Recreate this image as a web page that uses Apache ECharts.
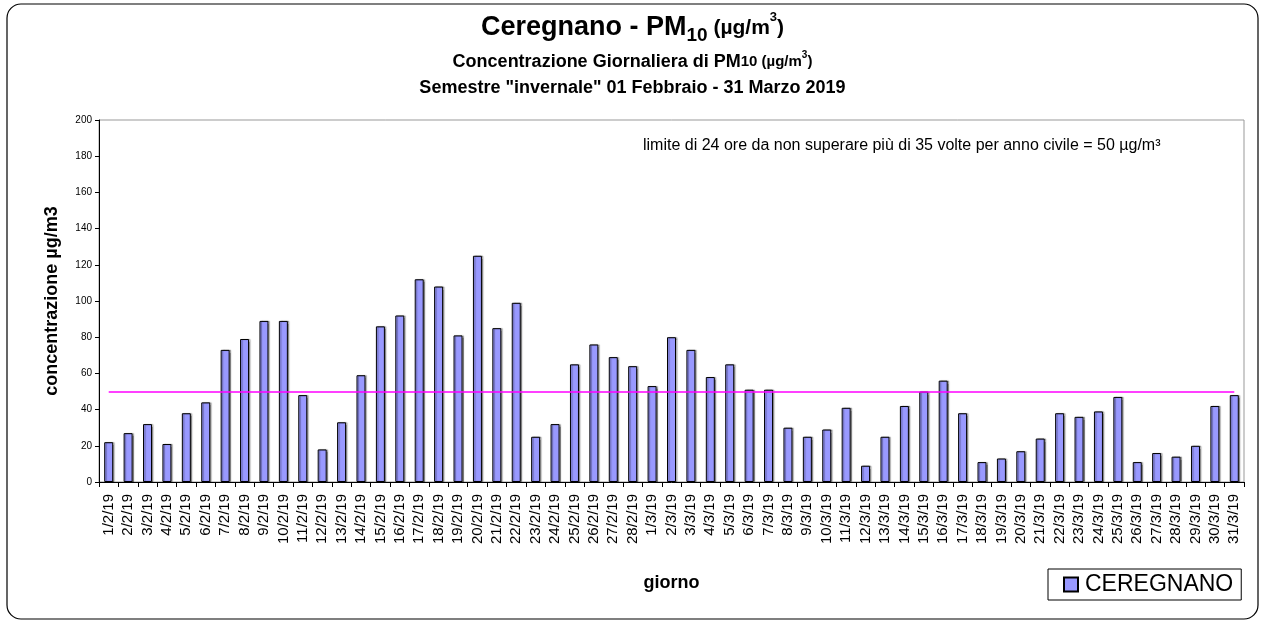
<!DOCTYPE html>
<html>
<head>
<meta charset="utf-8">
<script src="https://cdn.jsdelivr.net/npm/echarts@6/dist/echarts.min.js"></script>
<style>
  html, body { margin: 0; padding: 0; background: #fff; }
  #main { width: 1265px; height: 623px; }
</style>
</head>
<body>
<div id="main"></div>
<script>
// giorni 1/2/19 .. 31/3/19
const days = [
  '1/2/19', '2/2/19', '3/2/19', '4/2/19', '5/2/19', '6/2/19', '7/2/19', '8/2/19', '9/2/19', '10/2/19',
  '11/2/19', '12/2/19', '13/2/19', '14/2/19', '15/2/19', '16/2/19', '17/2/19', '18/2/19', '19/2/19', '20/2/19',
  '21/2/19', '22/2/19', '23/2/19', '24/2/19', '25/2/19', '26/2/19', '27/2/19', '28/2/19',
  '1/3/19', '2/3/19', '3/3/19', '4/3/19', '5/3/19', '6/3/19', '7/3/19', '8/3/19', '9/3/19', '10/3/19',
  '11/3/19', '12/3/19', '13/3/19', '14/3/19', '15/3/19', '16/3/19', '17/3/19', '18/3/19', '19/3/19', '20/3/19',
  '21/3/19', '22/3/19', '23/3/19', '24/3/19', '25/3/19', '26/3/19', '27/3/19', '28/3/19', '29/3/19', '30/3/19',
  '31/3/19'
];

const ceregnano = [
  22, 27, 32, 21, 38, 44, 73, 79, 89, 89,
  48, 18, 33, 59, 86, 92, 112, 108, 81, 125,
  85, 99, 25, 32, 65, 76, 69, 64,
  53, 80, 73, 58, 65, 51, 51, 30, 25, 29,
  41, 9, 25, 42, 50, 56, 38, 11, 13, 17,
  24, 38, 36, 39, 47, 11, 16, 14, 20, 42,
  48
];

const limite = 50;

const yTicks = { min: 0, max: 200, interval: 20 };

const font = 'Liberation Sans, Arial, Helvetica, sans-serif';

const chart = echarts.init(document.getElementById('main'));

chart.setOption({
  animation: false,
  textStyle: { fontFamily: font, color: '#000' },
  title: [
    {
      text: '{a|Ceregnano - PM}{s|10}{b| (µg/m}{p|3}{b|)}',
      left: 'center',
      top: 6,
      textStyle: {
        rich: {
          a: { fontSize: 27, fontWeight: 'bold', fontFamily: font, color: '#000', lineHeight: 34 },
          b: { fontSize: 21, fontWeight: 'bold', fontFamily: font, color: '#000', lineHeight: 34 },
          s: { fontSize: 19, fontWeight: 'bold', fontFamily: font, color: '#000', lineHeight: 20, verticalAlign: 'bottom' },
          p: { fontSize: 13, fontWeight: 'bold', fontFamily: font, color: '#000', lineHeight: 16, verticalAlign: 'top' }
        }
      }
    },
    {
      text: '{a|Concentrazione Giornaliera di PM}{b|10 (µg/m}{p|3}{b|)}',
      left: 'center',
      top: 45,
      textStyle: {
        rich: {
          a: { fontSize: 18, fontWeight: 'bold', fontFamily: font, color: '#000', lineHeight: 24 },
          b: { fontSize: 15, fontWeight: 'bold', fontFamily: font, color: '#000', lineHeight: 24 },
          p: { fontSize: 10, fontWeight: 'bold', fontFamily: font, color: '#000', lineHeight: 12, verticalAlign: 'top' }
        }
      }
    },
    {
      text: 'Semestre "invernale" 01 Febbraio - 31 Marzo 2019',
      left: 'center',
      top: 74,
      textStyle: { fontSize: 18, fontWeight: 'bold', fontFamily: font, color: '#000' }
    }
  ],
  graphic: [
    {
      type: 'rect',
      shape: { x: 7, y: 4, width: 1251, height: 615, r: 14 },
      style: { fill: 'none', stroke: '#000', lineWidth: 1.2 },
      silent: true
    },
    {
      type: 'text',
      left: 643,
      top: 138,
      style: {
        text: 'limite di 24 ore da non superare più di 35 volte per anno civile = 50 µg/m³',
        fontSize: 16,
        fontFamily: font,
        fill: '#000'
      }
    }
  ],
  legend: {
    left: 1048,
    top: 569,
    padding: [4, 8, 4, 15],
    borderColor: '#000',
    borderWidth: 1,
    itemWidth: 14,
    itemHeight: 14,
    itemGap: 4,
    icon: 'rect',
    textStyle: { fontSize: 23, fontFamily: font, color: '#000', padding: [0, 0, 0, 2] },
    data: ['CEREGNANO']
  },
  grid: {
    left: 99,
    right: 21,
    top: 120,
    bottom: 141,
    show: true,
    borderColor: '#999',
    borderWidth: 1
  },
  xAxis: {
    type: 'category',
    data: days,
    name: 'giorno',
    nameLocation: 'middle',
    nameGap: 92,
    nameTextStyle: { fontSize: 18, fontWeight: 'bold', fontFamily: font, color: '#000' },
    axisLine: { lineStyle: { color: '#000', width: 1 } },
    axisTick: { show: true, inside: false, length: 5, interval: 0, lineStyle: { color: '#000' } },
    axisLabel: { interval: 0, rotate: 90, fontSize: 15, margin: 12, color: '#000', fontFamily: font },
    splitLine: { show: false }
  },
  yAxis: {
    type: 'value',
    min: yTicks.min,
    max: yTicks.max,
    interval: yTicks.interval,
    name: 'concentrazione µg/m3',
    nameLocation: 'middle',
    nameGap: 38,
    nameTextStyle: { fontSize: 18, fontWeight: 'bold', fontFamily: font, color: '#000' },
    axisLine: { show: true, lineStyle: { color: '#000', width: 1 } },
    axisTick: { show: true, length: 4, lineStyle: { color: '#000' } },
    axisLabel: { fontSize: 10, margin: 7, color: '#000', fontFamily: font },
    splitLine: { show: false }
  },
  series: [
    {
      name: 'CEREGNANO',
      type: 'bar',
      data: ceregnano,
      barWidth: 9,
      itemStyle: {
        color: '#9999ff',
        borderColor: '#000',
        borderWidth: 1,
        shadowColor: 'rgba(0,0,0,0.35)',
        shadowOffsetX: 1.5,
        shadowOffsetY: 0,
        shadowBlur: 1
      },
      markLine: {
        symbol: 'none',
        silent: true,
        label: { show: false },
        lineStyle: { color: '#ff00ff', width: 1.5, type: 'solid' },
        data: [[
          { coord: [days[0], limite] },
          { coord: [days[days.length - 1], limite] }
        ]]
      }
    }
  ]
});
</script>
</body>
</html>
